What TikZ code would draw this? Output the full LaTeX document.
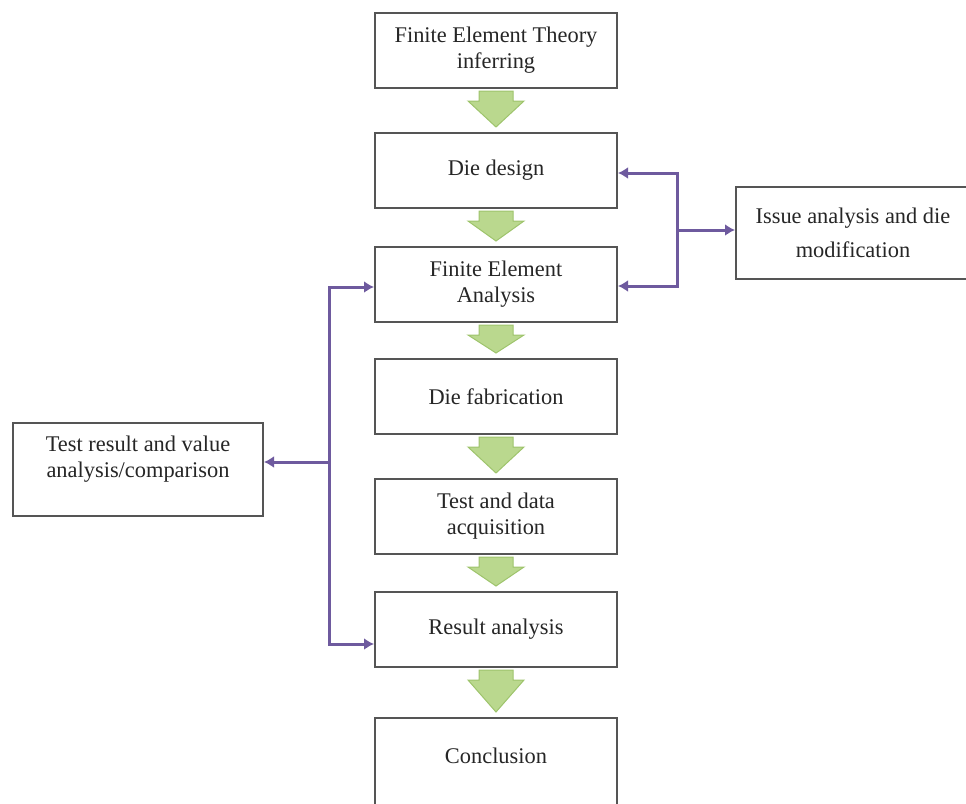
\documentclass[tikz,border=0pt]{standalone}
\usepackage{fontspec}
\setmainfont{Liberation Serif}
\usetikzlibrary{positioning,calc,arrows.meta}
\definecolor{boxline}{RGB}{85,85,85}
\definecolor{linkpurple}{RGB}{110,90,158}
\definecolor{flowgreen}{RGB}{186,216,142}
\definecolor{flowedge}{RGB}{158,196,108}
\tikzstyle{block} = [draw=boxline, line width=1pt, rectangle, fill=white,
    minimum height=37.5pt, minimum width=121pt, align=center, text=black!85]
\tikzstyle{link} = [draw=linkpurple, line width=1.5pt, -{Latex[length=5pt,width=6pt]}]
\tikzstyle{flow} = [fill=flowgreen, draw=flowedge, line width=0.5pt]

\begin{document}
\begin{tikzpicture}[x=0.5pt, y=-0.5pt, font=\fontsize{11.2}{13}\selectfont]
    \useasboundingbox (0,0) rectangle (966,804);
    \clip (0,0) rectangle (966,804);
    % main column
    \node [block] (theory) at (496,50.5) {Finite Element Theory\\inferring};
    \node [block, below=21.5pt of theory] (design) {Die design};
    \node [block, below=18.5pt of design] (fea) {Finite Element\\Analysis};
    \node [block, below=17.5pt of fea] (fab) {Die fabrication};
    \node [block, below=21.5pt of fab] (test) {Test and data\\acquisition};
    \node [block, below=18pt of test] (result) {Result analysis};
    \node [block, minimum height=46pt, text depth=8pt, below=24.5pt of result] (concl) {Conclusion};
    % side boxes
    \node [block, minimum width=117pt, minimum height=46pt] (issue) at (853,233) {Issue analysis and die\\[4pt]modification};
    \node [block, minimum width=125pt, minimum height=46.5pt, text depth=13pt] (cmp) at (138,469.5) {Test result and value\\analysis/comparison};

    \foreach \a/\b in {theory/design, design/fea, fea/fab, fab/test, test/result, result/concl}
        \draw [flow] ($(\a.south)+(-17,2)$) -- ($(\a.south)+(-17,12)$) -- ($(\a.south)+(-28,12)$)
            -- ($(\b.north)+(0,-5)$) -- ($(\a.south)+(28,12)$) -- ($(\a.south)+(17,12)$)
            -- ($(\a.south)+(17,2)$) -- cycle;

    % feedback links
    \coordinate (rj) at (677,230);
    \draw [link] (rj) -- (rj -| issue.west);
    \draw [link] (rj) |- ($(design.east)+(0,2.5)$);
    \draw [link] (rj) |- ($(fea.east)+(0,1.5)$);
    \coordinate (lj) at (329,462);
    \draw [link] (lj) -- (lj -| cmp.east);
    \draw [link] (lj) |- ($(fea.west)+(0,2.5)$);
    \draw [link] (lj) |- ($(result.west)+(0,14.5)$);
\end{tikzpicture}
\end{document}
